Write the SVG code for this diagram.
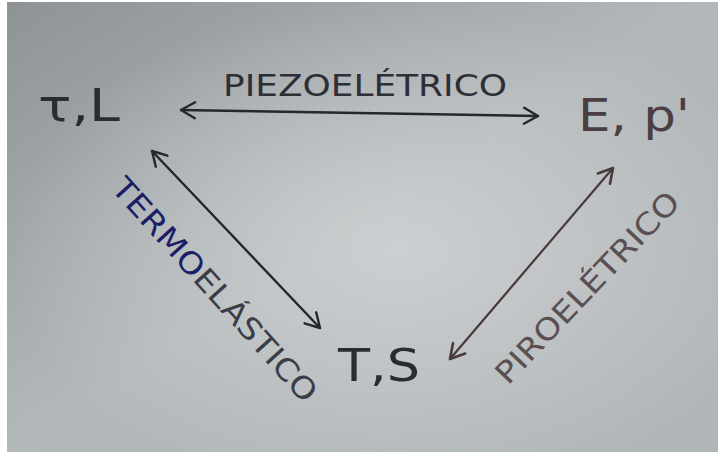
<svg xmlns="http://www.w3.org/2000/svg" width="720" height="452" viewBox="0 0 720 452">
  <defs>
    <linearGradient id="bg" x1="0" y1="0" x2="1" y2="1">
      <stop offset="0" stop-color="#8e9496"/>
      <stop offset="0.5" stop-color="#b3b8ba"/>
      <stop offset="1" stop-color="#b0b5b8"/>
    </linearGradient>
    <radialGradient id="glow" cx="0.55" cy="0.55" r="0.55">
      <stop offset="0" stop-color="#d2d5d6" stop-opacity="0.8"/>
      <stop offset="1" stop-color="#d2d5d6" stop-opacity="0"/>
    </radialGradient>
    <marker id="headDark" viewBox="0 0 20 20" refX="18" refY="10" markerWidth="20" markerHeight="20" markerUnits="userSpaceOnUse" orient="auto-start-reverse">
      <polyline points="4,2 18,10 4,18" fill="none" stroke="#25262e" stroke-width="2.4" stroke-linecap="round" stroke-linejoin="round"/>
    </marker>
    <marker id="headBrown" viewBox="0 0 20 20" refX="18" refY="10" markerWidth="20" markerHeight="20" markerUnits="userSpaceOnUse" orient="auto-start-reverse">
      <polyline points="4,2 18,10 4,18" fill="none" stroke="#4a3a3e" stroke-width="2.6" stroke-linecap="round" stroke-linejoin="round"/>
    </marker>
    <style>
      .node { font-family: "DejaVu Sans", "Liberation Sans", sans-serif; font-size: 44px; fill: #2a2b33; }
      .lbl { font-family: "DejaVu Sans", "Liberation Sans", sans-serif; font-size: 30px; }
      .dark { stroke: #25262e; stroke-width: 2.4; fill: none; stroke-linecap: round; }
      .brown { stroke: #4a3a3e; stroke-width: 2.2; fill: none; stroke-linecap: round; }
    </style>
  </defs>

  <rect x="0" y="0" width="720" height="452" fill="#ffffff"/>
  <rect x="7" y="2" width="711" height="450" fill="url(#bg)"/>
  <rect x="7" y="2" width="711" height="450" fill="url(#glow)"/>

  <g id="connectors">
    <path class="dark" d="M181,110 L538,116" marker-start="url(#headDark)" marker-end="url(#headDark)"/>
    <path class="dark" d="M152,151 L320,328" marker-start="url(#headDark)" marker-end="url(#headDark)"/>
    <path class="brown" d="M450,359 L613,168" marker-start="url(#headBrown)" marker-end="url(#headBrown)"/>
  </g>

  <g id="node-tauL">
    <text class="node" x="38" y="121" textLength="82" lengthAdjust="spacingAndGlyphs">τ,L</text>
  </g>
  <g id="node-Ep">
    <text class="node" x="578" y="131" textLength="112" lengthAdjust="spacingAndGlyphs" fill="#4a3e42" style="fill:#4a3e42">E, p'</text>
  </g>
  <g id="node-TS">
    <text class="node" x="338" y="381" textLength="82" lengthAdjust="spacingAndGlyphs">T,S</text>
  </g>

  <g id="label-piezo">
    <text class="lbl" x="223" y="96" textLength="284" lengthAdjust="spacingAndGlyphs" fill="#2e2e36">PIEZOELÉTRICO</text>
  </g>
  <g id="label-termo">
    <text class="lbl" transform="translate(110,189) rotate(48)" x="0" y="0" textLength="290" lengthAdjust="spacingAndGlyphs"><tspan fill="#1b1e66">TERMO</tspan><tspan fill="#3b3c46">ELÁSTICO</tspan></text>
  </g>
  <g id="label-piro">
    <text class="lbl" transform="translate(508,386) rotate(-46.4)" x="0" y="0" textLength="252" lengthAdjust="spacingAndGlyphs" fill="#5a4f52">PIROELÉTRICO</text>
  </g>
</svg>
